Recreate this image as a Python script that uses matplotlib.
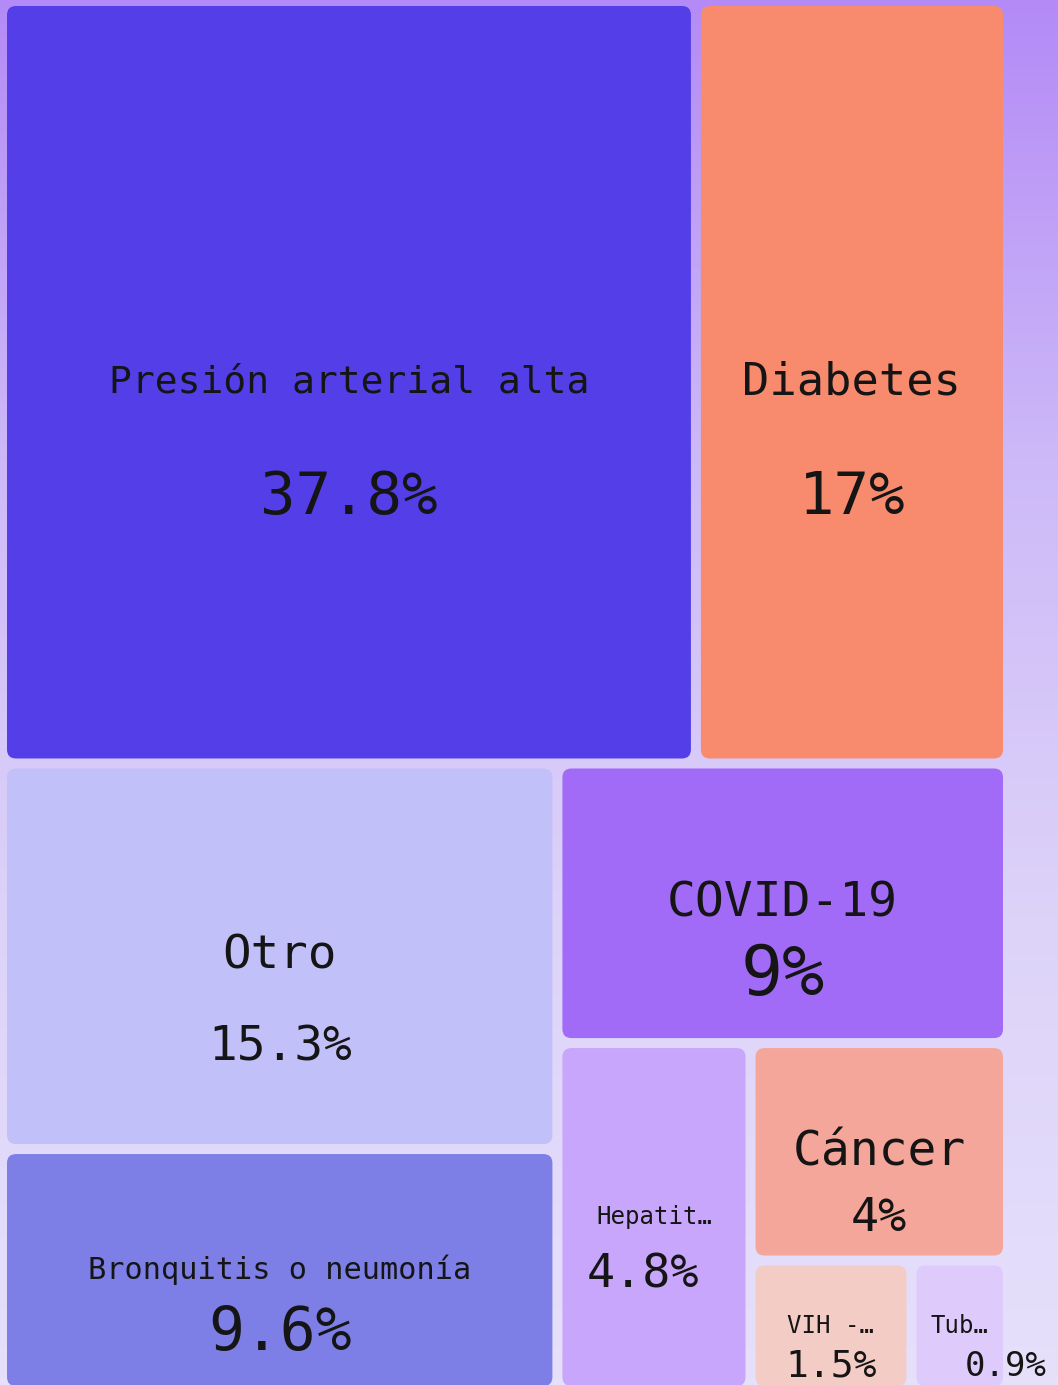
import matplotlib.pyplot as plt
import numpy as np
from matplotlib.patches import FancyBboxPatch
from matplotlib.colors import LinearSegmentedColormap

# data
labels = ["Presión arterial alta", "Diabetes", "Otro", "Bronquitis o neumonía",
          "COVID-19", "Hepatit…", "Cáncer", "VIH -…", "Tub…"]
values = [37.8, 17, 15.3, 9.6, 9, 4.8, 4, 1.5, 0.9]
value_text = ["37.8%", "17%", "15.3%", "9.6%", "9%", "4.8%", "4%", "1.5%", "0.9%"]

# how many tiles go in each strip of the layout
strips = [2, 2, 1, 1, 1, 1, 1]

# styles
colors = ["#533EE7", "#F88B6E", "#C2C0F9", "#7D7FE6", "#A16AF7",
          "#C8A6FB", "#F5A69A", "#F3CCC6", "#DFCBFB"]
name_px = [38, 45.4, 47.5, 30.3, 48, 24, 48, 24, 24]
value_px = [59, 59, 47.7, 59.6, 70, 46.7, 46.7, 38, 34]
value_dy = [115, 115, 91, 63, 72, 58, 67, 41, 41]
value_dx = [0, 0, 0, 0, 0, -11, 0, 0, 46]

W, H = 1058, 1385
frame = (2, 1, 1008, 1391)
gap = 5


def layout(vals, groups, box):
    x0, y0, x1, y1 = box
    rects = []
    total = sum(vals)
    i = 0
    for k in groups:
        part = vals[i:i + k]
        s = sum(part)
        dx, dy = x1 - x0, y1 - y0
        if dx < dy:
            h = dy * s / total
            x = x0
            for v in part:
                w = dx * v / s
                rects.append((x, y0, x + w, y0 + h))
                x += w
            y0 += h
        else:
            w = dx * s / total
            y = y0
            for v in part:
                h = dy * v / s
                rects.append((x0, y, x0 + w, y + h))
                y += h
            x0 += w
        total -= s
        i += k
    return rects


fig = plt.figure(figsize=(W / 100, H / 100), dpi=100)
ax = fig.add_axes([0, 0, 1, 1])
ax.set_xlim(0, W)
ax.set_ylim(H, 0)
ax.axis("off")

# background gradient
bg = LinearSegmentedColormap.from_list("bg", ["#B48BF6", "#CDB9F8", "#DDD3F9", "#E6E0FB"])
grad = np.linspace(0, 1, 400).reshape(-1, 1)
ax.imshow(grad, cmap=bg, extent=[0, W, H, 0], aspect="auto", zorder=0)

mono = "DejaVu Sans Mono"
for i, (x0, y0, x1, y1) in enumerate(layout(values, strips, frame)):
    patch = FancyBboxPatch((x0 + gap, y0 + gap), x1 - x0 - 2 * gap, y1 - y0 - 2 * gap,
                           boxstyle="round,pad=0,rounding_size=9",
                           fc=colors[i], ec="none", zorder=1)
    ax.add_patch(patch)
    cx, cy = (x0 + x1) / 2, (y0 + y1) / 2
    ax.text(cx, cy, labels[i], family=mono, fontsize=name_px[i] * 0.72,
            ha="center", va="center", color="#151515", zorder=2)
    ax.text(cx + value_dx[i], cy + value_dy[i], value_text[i], family=mono,
            fontsize=value_px[i] * 0.72, ha="center", va="center", color="#151515", zorder=2)

fig.savefig("out.png", dpi=100)
